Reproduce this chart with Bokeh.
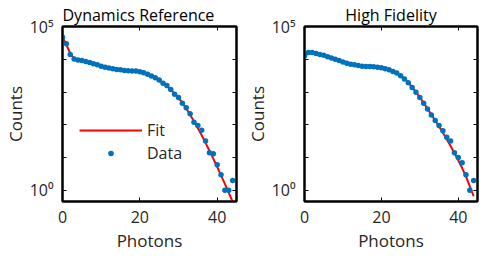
from bokeh.plotting import figure
from bokeh.layouts import row
from bokeh.models import Range1d, FixedTicker, LogAxis, LinearAxis, Legend
from bokeh.embed import file_html
from bokeh.resources import INLINE

photons = list(range(45))

dyn_counts = [46800, 30000, 14100, 10200, 9550, 9120, 8510, 7940, 7240, 6760,
              6170, 5750, 5370, 5130, 4900, 4790, 4570, 4470, 4420, 4370,
              4170, 3890, 3470, 3090, 2750, 2340, 1860, 1580, 1200, 851,
              676, 457, 331, 219, 120, 95, 68, 32, 14, 13,
              6, 3, 1, 1, 2]
dyn_fit = [46800, 28200, 15100, 10700, 9550, 8910, 8320, 7760, 7240, 6760,
           6310, 5890, 5500, 5250, 5010, 4790, 4680, 4570, 4470, 4370,
           4170, 3890, 3550, 3160, 2750, 2340, 1910, 1510, 1170, 891,
           661, 468, 316, 204, 129, 79.4, 47.9, 28.2, 16.2, 9.33,
           5.25, 2.88, 1.58, 0.851, 0.447]

hf_counts = [12600, 16200, 16000, 15100, 14100, 13200, 12000, 11000, 10000, 9120,
             8320, 7590, 7080, 6760, 6460, 6170, 6030, 6000, 5950, 5750,
             5500, 5130, 4790, 4270, 3800, 3160, 2510, 1910, 1380, 977,
             676, 457, 302, 200, 135, 95, 66, 42, 32, 14,
             10, 7, 3, 1, 2]
hf_fit = [12000, 15800, 15800, 15100, 14100, 12900, 11700, 10700, 9770, 8910,
          8320, 7590, 7080, 6760, 6460, 6170, 6030, 6030, 5890, 5750,
          5500, 5130, 4680, 4270, 3720, 3160, 2570, 1950, 1410, 1000,
          692, 468, 309, 204, 135, 89.1, 57.5, 36.3, 22.4, 13.8,
          8.32, 4.79, 2.69, 1.32, 0.661]

titles = ["Dynamics Reference", "High Fidelity"]
x_ticks = [0, 20, 40]
y_ticks = [1, 10, 100, 1000, 10000, 100000]
y_tick_labels = {1: "10\u2070", 10: "", 100: "", 1000: "", 10000: "", 100000: "10\u2075"}

FONT = "Open Sans"
TXT = "#262626"
BLUE = "#0072BD"
RED = "#FF0000"


def make(title, counts, fit, width, left, right, legend):
    p = figure(width=width, height=256, y_axis_type="log",
               x_range=Range1d(0, 45), y_range=Range1d(0.457, 1e5),
               output_backend="svg", toolbar_location=None,
               min_border_left=left, min_border_right=right,
               min_border_top=24, min_border_bottom=55)
    p.grid.visible = False
    p.outline_line_color = "black"
    p.outline_line_width = 2
    p.background_fill_color = "white"
    p.border_fill_color = "white"

    p.title.text = title
    p.title.text_font = FONT
    p.title.text_font_size = "16px"
    p.title.text_font_style = "normal"
    p.title.text_color = "black"
    p.title.standoff = 2

    for ax in p.xaxis:
        ax.ticker = FixedTicker(ticks=x_ticks)
        ax.axis_label = "Photons"
        ax.major_label_standoff = 9
        ax.axis_label_standoff = 3
    for ax in p.yaxis:
        ax.ticker = FixedTicker(ticks=y_ticks)
        ax.major_label_overrides = y_tick_labels
        ax.axis_label = "Counts"
        ax.major_label_standoff = 9
        ax.axis_label_standoff = 0
    for ax in list(p.xaxis) + list(p.yaxis):
        ax.major_tick_in = 4
        ax.major_tick_out = 0
        ax.minor_tick_in = 0
        ax.minor_tick_out = 0
        ax.axis_line_color = "black"
        ax.axis_line_width = 2
        ax.major_label_text_font = FONT
        ax.major_label_text_font_size = "16px"
        ax.major_label_text_color = TXT
        ax.axis_label_text_font = FONT
        ax.axis_label_text_font_size = "17px"
        ax.axis_label_text_font_style = "normal"
        ax.axis_label_text_color = TXT

    ra = LogAxis(ticker=FixedTicker(ticks=y_ticks),
                 major_label_overrides={t: "" for t in y_ticks},
                 major_label_standoff=0, major_tick_in=4, major_tick_out=0,
                 minor_tick_in=0, minor_tick_out=0, axis_line_color="black", axis_line_width=2)
    ta = LinearAxis(ticker=FixedTicker(ticks=x_ticks),
                    major_label_overrides={t: "" for t in x_ticks},
                    major_label_standoff=0, major_tick_in=4, major_tick_out=0,
                    minor_tick_in=0, minor_tick_out=0, axis_line_color="black", axis_line_width=2)
    p.add_layout(ra, "right")
    p.add_layout(ta, "above")

    fl = p.line(photons, fit, line_color=RED, line_width=2)
    dp = p.scatter(photons, counts, size=5.5, fill_color=BLUE, line_color=None)

    if legend:
        lg = Legend(items=[("Fit", [fl]), ("Data", [dp])], location=(17, 37),
                    border_line_color=None, background_fill_alpha=0,
                    padding=0, margin=0, spacing=1,
                    glyph_width=63, glyph_height=14, label_height=20,
                    label_standoff=5, label_text_font=FONT,
                    label_text_font_size="16px", label_text_color=TXT)
        p.add_layout(lg, "center")
    return p


p1 = make(titles[0], dyn_counts, dyn_fit, 242, 60, 6, True)
p1.title.align = "left"
p2 = make(titles[1], hf_counts, hf_fit, 243, 61, 8, False)
p2.title.align = "center"
p2.title.offset = -6

layout = row(p1, p2)
open("out.html", "w").write(file_html(layout, INLINE))
